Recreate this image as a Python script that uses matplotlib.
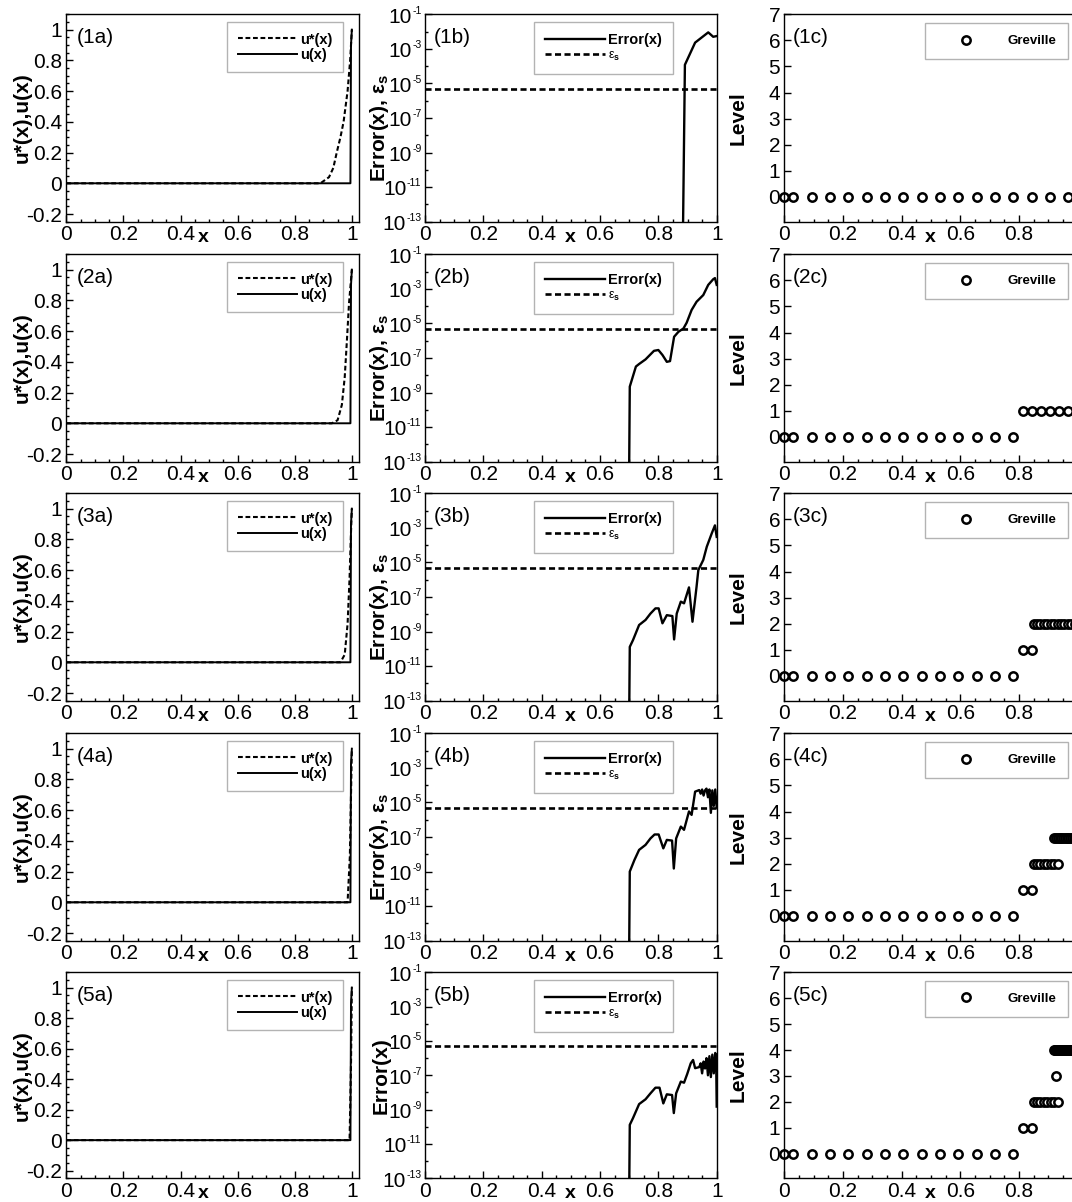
import math
import matplotlib
matplotlib.use("Agg")
import matplotlib.pyplot as plt
from matplotlib.lines import Line2D
from matplotlib.ticker import AutoMinorLocator, MultipleLocator, FormatStrFormatter, NullFormatter

plt.rcParams['font.family'] = ['Liberation Sans', 'DejaVu Sans']
plt.rcParams['mathtext.fontset'] = 'custom'
plt.rcParams['mathtext.rm'] = 'Liberation Sans'
plt.rcParams['mathtext.it'] = 'Liberation Sans:italic'
plt.rcParams['mathtext.bf'] = 'Liberation Sans:bold'
plt.rcParams['axes.unicode_minus'] = False

rows = ['1', '2', '3', '4', '5']

# ---- column a: u*(x) dashed, u(x) solid
ustar_x = [
    [0.0, 0.89, 0.92, 0.935, 0.947, 0.96, 0.971, 0.985, 0.994, 1.0],
    [0.0, 0.93, 0.95, 0.965, 0.975, 0.983, 0.99, 1.0],
    [0.0, 0.96, 0.975, 0.985, 0.992, 0.997, 1.0],
    [0.0, 0.985, 0.993, 0.998, 1.0],
    [0.0, 0.992, 0.997, 1.0],
]
ustar_y = [
    [0.0, 0.0, 0.04, 0.1, 0.2, 0.3, 0.4, 0.6, 0.8, 1.0],
    [0.0, 0.0, 0.02, 0.12, 0.3, 0.55, 0.78, 1.0],
    [0.0, 0.0, 0.05, 0.25, 0.55, 0.85, 1.0],
    [0.0, 0.0, 0.3, 0.8, 1.0],
    [0.0, 0.0, 0.5, 1.0],
]
u_x = [0.0, 0.995, 0.997, 1.0]
u_y = [0.0, 0.0, 0.9, 1.0]

# ---- column b: Error(x) and eps_s
eps_s = 5e-6
err_x = [
    [0.880, 0.891, 0.926, 0.971, 0.988, 1.0],
    [0.697, 0.702, 0.723, 0.734, 0.756, 0.785, 0.800, 0.814, 0.829, 0.840, 0.854,
     0.869, 0.886, 0.897, 0.914, 0.931, 0.954, 0.971, 0.988, 0.994, 1.0],
    [0.697, 0.702, 0.713, 0.734, 0.756, 0.773, 0.790, 0.801, 0.814, 0.829, 0.848,
     0.854, 0.863, 0.877, 0.888, 0.905, 0.917, 0.931, 0.937, 0.954, 0.966, 0.983,
     0.994, 1.0],
    [0.697, 0.702, 0.718, 0.734, 0.756, 0.773, 0.787, 0.801, 0.817, 0.829, 0.847,
     0.853, 0.861, 0.877, 0.888, 0.905, 0.914, 0.926, 0.940, 0.945, 0.950, 0.955,
     0.960, 0.965, 0.970, 0.975, 0.980, 0.985, 0.990, 0.995, 1.0],
    [0.697, 0.702, 0.713, 0.734, 0.756, 0.773, 0.790, 0.804, 0.817, 0.829, 0.847,
     0.853, 0.861, 0.877, 0.888, 0.899, 0.911, 0.919, 0.926, 0.940, 0.945, 0.950,
     0.955, 0.960, 0.965, 0.970, 0.975, 0.980, 0.985, 0.990, 0.995, 0.998, 1.0],
]
err_y = [
    [1e-20, 1.2e-4, 2.3e-3, 9e-3, 5e-3, 5.5e-3],
    [1e-20, 2.2e-9, 3.2e-8, 4.5e-8, 8.3e-8, 2.6e-7, 2.9e-7, 1.5e-7, 6.0e-8, 6.6e-8,
     1.7e-6, 3.3e-6, 5.1e-6, 1.1e-5, 6.0e-5, 1.8e-4, 4.4e-4, 1.7e-3, 3.6e-3, 4.2e-3,
     1.7e-3],
    [1e-20, 1.3e-10, 3.2e-10, 2.4e-9, 4.7e-9, 1.1e-8, 2.2e-8, 2.2e-8, 3.0e-9, 8.9e-9,
     7.9e-9, 3.5e-10, 1.1e-8, 5.4e-8, 4.3e-8, 3.6e-7, 3.7e-9, 4.0e-7, 3.6e-6, 1.4e-5,
     8.1e-5, 4.8e-4, 1.4e-3, 3.0e-4],
    [1e-20, 1.0e-9, 4.7e-9, 1.8e-8, 3.5e-8, 8.3e-8, 1.4e-7, 1.4e-7, 2.2e-8, 6.8e-8,
     6.2e-8, 1.5e-9, 8.3e-8, 4.0e-7, 2.6e-7, 3.0e-6, 1.9e-6, 4.2e-5, 5.2e-5, 3.2e-5,
     5.6e-5, 2.5e-5, 5.0e-5, 6.3e-5, 2.0e-5, 5.6e-5, 2.5e-6, 5.0e-5, 6.3e-6, 5.6e-5,
     5.0e-6],
    [1e-20, 1.3e-10, 3.2e-10, 2.1e-9, 4.0e-9, 8.9e-9, 1.9e-8, 1.9e-8, 2.3e-9, 7.8e-9,
     7.1e-9, 6.3e-10, 8.9e-9, 4.3e-8, 3.7e-8, 1.2e-7, 5.0e-7, 7.8e-7, 2.6e-7, 3.0e-7,
     5.0e-7, 1.3e-7, 6.3e-7, 2.5e-7, 1.0e-6, 1.0e-7, 1.3e-6, 7.9e-8, 1.6e-6, 1.3e-7,
     2.0e-6, 1.3e-6, 1.5e-9],
]
log_major = [1e-1, 1e-3, 1e-5, 1e-7, 1e-9, 1e-11, 1e-13]
log_minor = [1e-2, 1e-4, 1e-6, 1e-8, 1e-10, 1e-12]

# ---- column c: Greville points per level
lvl0_all = [0.0, 0.03125, 0.09375, 0.15625, 0.21875, 0.28125, 0.34375, 0.40625, 0.46875,
            0.53125, 0.59375, 0.65625, 0.71875, 0.78125, 0.84375, 0.90625, 0.96875, 1.0]
lvl0_cut = [0.0, 0.03125, 0.09375, 0.15625, 0.21875, 0.28125, 0.34375, 0.40625, 0.46875,
            0.53125, 0.59375, 0.65625, 0.71875, 0.78125]
lvl1_long = [0.8125, 0.84375, 0.875, 0.90625, 0.9375, 0.96875, 1.0]
lvl1_short = [0.8125, 0.84375]
lvl2_long = [0.850, 0.862, 0.873, 0.885, 0.897, 0.908, 0.920, 0.932, 0.943, 0.955,
             0.967, 0.978, 0.990, 1.0]
lvl2_short = [0.850, 0.862, 0.873, 0.885, 0.897, 0.908, 0.920, 0.932]
lvl3_long = [0.921, 0.927, 0.933, 0.939, 0.945, 0.951, 0.957, 0.963, 0.969, 0.975,
             0.981, 0.987, 0.993, 1.0]
lvl3_single = [0.928]
lvl4_long = [0.921, 0.924, 0.927, 0.930, 0.933, 0.936, 0.939, 0.942, 0.945, 0.948,
             0.951, 0.954, 0.957, 0.960, 0.963, 0.966, 0.969, 0.972, 0.975, 0.978,
             0.981, 0.984, 0.987, 0.990, 0.993, 0.996, 1.0]
c_xticks = [0, 0.2, 0.4, 0.6, 0.8]

greville = [
    [(lvl0_all, 0)],
    [(lvl0_cut, 0), (lvl1_long, 1)],
    [(lvl0_cut, 0), (lvl1_short, 1), (lvl2_long, 2)],
    [(lvl0_cut, 0), (lvl1_short, 1), (lvl2_short, 2), (lvl3_long, 3)],
    [(lvl0_cut, 0), (lvl1_short, 1), (lvl2_short, 2), (lvl3_single, 3), (lvl4_long, 4)],
]

W, H = 1072, 1202
fig = plt.figure(figsize=(W / 100, H / 100), dpi=100)

col_left = [66.3, 425.0, 784.3]
col_width = [292.7, 291.7, 293.2]
row_top = [14.3, 254.3, 493.3, 733.3, 972.3]
row_h = [207.4, 207.4, 207.4, 207.4, 206.0]


def make_axes(col, row):
    l, t, w, h = col_left[col], row_top[row], col_width[col], row_h[row]
    return fig.add_axes([l / W, 1 - (t + h) / H, w / W, h / H])


def style(ax, xlab_pos):
    for s in ax.spines.values():
        s.set_linewidth(1.0)
    ax.tick_params(which='both', direction='in', top=False, right=False, labelsize=15, width=1)
    ax.tick_params(which='major', length=5)
    ax.tick_params(which='minor', length=2.5)
    ax.tick_params(axis='x', pad=2.5)
    ax.tick_params(axis='y', pad=3)
    ax.text(xlab_pos, -0.097, 'x', transform=ax.transAxes, ha='center', va='baseline',
            fontsize=14, fontweight='bold')


def legend_box(ax, handles, anchor, fs, hl, htp, bp, ls=0.1):
    leg = ax.legend(handles=handles, loc='upper right', bbox_to_anchor=anchor,
                    borderaxespad=0, fancybox=False, framealpha=1, edgecolor='0.7',
                    prop={'weight': 'bold', 'size': fs}, handlelength=hl,
                    handletextpad=htp, borderpad=bp, labelspacing=ls)
    leg.get_frame().set_linewidth(1.0)
    return leg


def log_tick_labels(ax, values):
    # Tecplot-style 10^n: big "10" with a tiny exponent
    for v in values:
        sup = ax.annotate('%d' % round(math.log10(v)), xy=(0, v),
                          xycoords=('axes fraction', 'data'), xytext=(-2.5, 0.5),
                          textcoords='offset points', ha='right', va='baseline',
                          fontsize=7.5, annotation_clip=False)
        ax.annotate('10', xy=(0, 0), xycoords=sup, xytext=(-0.3, -5),
                    textcoords='offset points', ha='right', va='baseline',
                    fontsize=15, annotation_clip=False)


dash = (2.3, 1.3)

for r in range(5):
    # (a)
    ax = make_axes(0, r)
    style(ax, 0.467)
    ax.plot(ustar_x[r], ustar_y[r], color='black', lw=1.5, ls=(0, dash))
    ax.plot(u_x, u_y, color='black', lw=1.4)
    ax.set_xlim(0, 1.025)
    ax.set_ylim(-0.25, 1.1)
    ax.xaxis.set_major_locator(MultipleLocator(0.2))
    ax.yaxis.set_major_locator(MultipleLocator(0.2))
    ax.xaxis.set_minor_locator(AutoMinorLocator(4))
    ax.yaxis.set_minor_locator(AutoMinorLocator(4))
    ax.xaxis.set_major_formatter(FormatStrFormatter('%g'))
    ax.yaxis.set_major_formatter(FormatStrFormatter('%g'))
    ax.set_ylabel('u*(x),u(x)', fontsize=15, fontweight='bold')
    ax.yaxis.set_label_coords(-0.118, 0.5)
    ax.text(0.034, 0.862, '(%sa)' % rows[r], transform=ax.transAxes, fontsize=15, va='baseline')
    h = [Line2D([], [], color='black', lw=1.5, ls=(0, dash), label='u*(x)'),
         Line2D([], [], color='black', lw=1.4, label='u(x)')]
    legend_box(ax, h, (0.945, 0.961), 10.5, 4.1, 0.2, 0.7)

    # (b)
    ax = make_axes(1, r)
    style(ax, 0.497)
    ax.set_yscale('log')
    ax.plot(err_x[r], err_y[r], color='black', lw=1.7)
    ax.axhline(eps_s, color='black', lw=1.9, ls=(0, dash))
    ax.set_xlim(0, 1)
    ax.set_ylim(1e-13, 1e-1)
    ax.set_yticks(log_major)
    ax.set_yticks(log_minor, minor=True)
    ax.yaxis.set_major_formatter(NullFormatter())
    ax.yaxis.set_minor_formatter(NullFormatter())
    log_tick_labels(ax, log_major)
    ax.xaxis.set_major_locator(MultipleLocator(0.2))
    ax.xaxis.set_minor_locator(AutoMinorLocator(4))
    ax.xaxis.set_major_formatter(FormatStrFormatter('%g'))
    if r < 4:
        ax.set_ylabel('Error(x), ε$_\\mathbf{s}$', fontsize=15, fontweight='bold')
        ax.yaxis.set_label_coords(-0.118, 0.45)
    else:
        ax.set_ylabel('Error(x)', fontsize=15, fontweight='bold')
        ax.yaxis.set_label_coords(-0.118, 0.5)
    ax.text(0.031, 0.862, '(%sb)' % rows[r], transform=ax.transAxes, fontsize=15, va='baseline')
    h = [Line2D([], [], color='black', lw=1.7, label='Error(x)'),
         Line2D([], [], color='black', lw=1.9, ls=(0, dash), label='ε$_\\mathbf{s}$')]
    leg = legend_box(ax, h, (0.850, 0.961), 10.5, 4.1, 0.2, 0.75)
    leg.get_texts()[1].set_fontweight('normal')
    leg.get_texts()[1].set_fontsize(9)

    # (c)
    ax = make_axes(2, r)
    style(ax, 0.497)
    for xs, lev in greville[r]:
        ax.plot(xs, [lev] * len(xs), ls='none', marker='o', ms=6, mew=1.8,
                mec='black', mfc='white', clip_on=False)
    ax.set_xlim(0, 1)
    ax.set_ylim(-0.95, 7)
    ax.set_xticks(c_xticks)
    ax.xaxis.set_minor_locator(AutoMinorLocator(4))
    ax.yaxis.set_major_locator(MultipleLocator(1))
    ax.xaxis.set_major_formatter(FormatStrFormatter('%g'))
    ax.yaxis.set_major_formatter(FormatStrFormatter('%g'))
    ax.set_ylabel('Level', fontsize=15, fontweight='bold')
    ax.yaxis.set_label_coords(-0.124, 0.5)
    ax.text(0.029, 0.862, '(%sc)' % rows[r], transform=ax.transAxes, fontsize=15, va='baseline')
    h = [Line2D([], [], ls='none', marker='o', ms=6, mew=1.8, mec='black', mfc='white',
                label='Greville')]
    legend_box(ax, h, (0.9676, 0.958), 9.5, 4.3, 1.0, 0.9)

fig.savefig('out.png', dpi=100)
